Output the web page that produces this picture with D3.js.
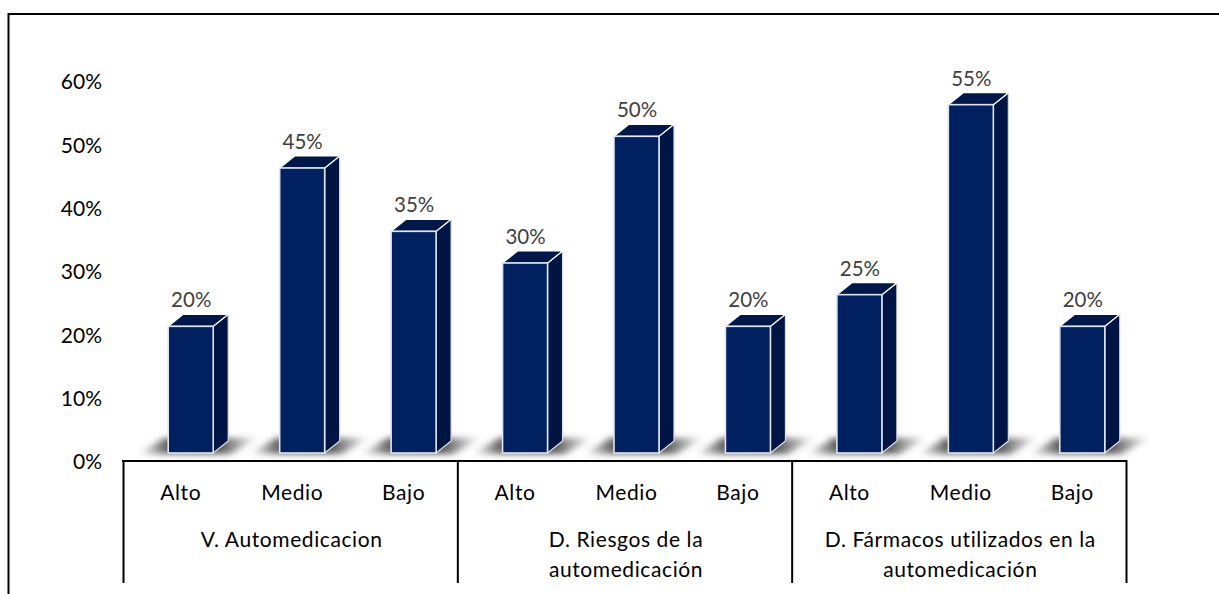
<!DOCTYPE html>
<html><head><meta charset="utf-8">
<script src="https://cdn.jsdelivr.net/npm/d3@7/dist/d3.min.js"></script>
<style>html,body{margin:0;padding:0;background:#fff}svg{display:block}text{font-family:Lato,"Open Sans",sans-serif}</style>
</head><body><div id="chart"></div>
<script>
const groups = ["V. Automedicacion","D. Riesgos de la|automedicación","D. Fármacos utilizados en la|automedicación"];
const levels = ["Alto","Medio","Bajo"];
const groupIdx = [0,0,0,1,1,1,2,2,2];
const values = [20,45,35,30,50,20,25,55,20];
const yTicks = [0,10,20,30,40,50,60];

const W=1219,H=594;
const svg=d3.select("#chart").append("svg").attr("width",W).attr("height",H);
const x=d3.scaleBand().domain(d3.range(values.length)).range([123,1126]);
const y=d3.scaleLinear().domain([0,60]).range([462,82]);
const barW=45, dx=15, dy=12, lift=9;
const frontX=i=>x(i)+x.bandwidth()/2-barW/2+12;
const defs=svg.append("defs");
const f=defs.append("filter").attr("id","blur").attr("x","-30%").attr("y","-60%").attr("width","160%").attr("height","220%");
f.append("feGaussianBlur").attr("stdDeviation",3.2);
const g=defs.append("linearGradient").attr("id","sh");
[[0,0],[.24,.85],[.68,.9],[1,0]].forEach(s=>g.append("stop").attr("offset",s[0]).attr("stop-color","#444").attr("stop-opacity",s[1]));

// frame
svg.append("path").attr("d",`M8.5,${H}V14H${W}`).attr("fill","none").attr("stroke","#000").attr("stroke-width",2);

// shadows
const base=y(0)-lift;
svg.append("g").selectAll("path").data(values).join("path")
 .attr("d",(d,i)=>{const X=frontX(i);return `M${X-30},${base+1}L${X-4},${base-15}H${X+90}L${X+62},${base+1}Z`;})
 .attr("fill","url(#sh)").attr("filter","url(#blur)");

// bars
const bars=svg.append("g").selectAll("g").data(values).join("g");
bars.append("path").attr("d",(d,i)=>{const X=frontX(i),T=y(d)-lift;return `M${X+barW},${T}l${dx},${-dy}V${base-dy}l${-dx},${dy}Z`;})
 .attr("fill","#001543").attr("stroke","#d9dee8").attr("stroke-width",1.2).attr("stroke-linejoin","round");
bars.append("path").attr("d",(d,i)=>{const X=frontX(i),T=y(d)-lift;return `M${X},${T}l${dx},${-dy}h${barW}l${-dx},${dy}Z`;})
 .attr("fill","#001849").attr("stroke","#fff").attr("stroke-width",1.2).attr("stroke-linejoin","round");
bars.append("rect").attr("x",(d,i)=>frontX(i)).attr("y",d=>y(d)-lift).attr("width",barW).attr("height",d=>base-(y(d)-lift))
 .attr("fill","#002060").attr("stroke","#dfe4ee").attr("stroke-width",1.6);
bars.append("text").attr("x",(d,i)=>frontX(i)+barW/2+0.5).attr("y",d=>y(d)-lift-19).attr("text-anchor","middle")
 .attr("font-size",20.5).attr("fill","#404040").text(d=>d+"%");

// y axis
const ax=svg.append("g").attr("transform","translate(102,0)").call(d3.axisLeft(y).tickValues(yTicks).tickSize(0).tickPadding(0).tickFormat(d=>d+"%"));
ax.select(".domain").remove();
ax.selectAll("text").attr("font-size",21).attr("fill","#000").style("font-family","Lato");

// category table
const tab=svg.append("g").attr("stroke","#000").attr("stroke-width",2);
tab.append("line").attr("x1",122).attr("x2",1127).attr("y1",461).attr("y2",461);
[0,3,6,9].forEach(i=>{const X=i<9?x(i):x(8)+x.bandwidth();tab.append("line").attr("x1",X+.5).attr("x2",X+.5).attr("y1",460).attr("y2",583);});
svg.append("g").selectAll("text").data(values).join("text")
 .attr("x",(d,i)=>x(i)+x.bandwidth()/2+2).attr("y",500).attr("text-anchor","middle").attr("font-size",21).attr("letter-spacing",.6).attr("fill","#000")
 .text((d,i)=>levels[i%3]);
groups.forEach((t,k)=>{
  const idx=groupIdx.indexOf(k);
  const cx=x(idx)+x.bandwidth()*1.5+1.5;
  t.split("|").forEach((l,j)=>svg.append("text").attr("x",cx).attr("y",547+j*30).attr("text-anchor","middle").attr("font-size",21).attr("letter-spacing",.6).attr("fill","#000").text(l));
});
</script></body></html>
